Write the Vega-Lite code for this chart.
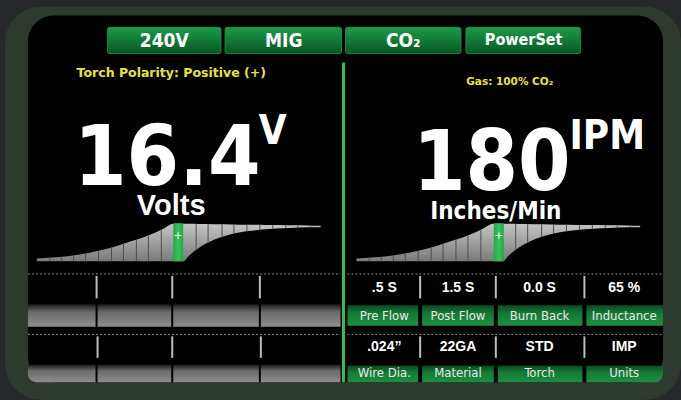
{
  "$schema": "https://vega.github.io/schema/vega-lite/v6.json",
  "width": 681,
  "height": 400,
  "padding": 0,
  "autosize": {"type": "fit", "contains": "padding"},
  "background": "#26282b",
  "config": {"view": {"stroke": null}},
  "encoding": {
    "x": {"field": "x", "type": "quantitative", "scale": {"domain": [0, 681], "nice": false, "zero": false}, "axis": null},
    "y": {"field": "y", "type": "quantitative", "scale": {"domain": [0, 400], "nice": false, "zero": false, "reverse": true}, "axis": null}
  },
  "layer": [
    {
      "data": {"values": [{"x": 5, "x2": 684, "y": 7, "y2": 410}]},
      "mark": {"type": "rect", "fill": "#2f3a2e", "cornerRadius": 36},
      "encoding": {"x2": {"field": "x2"}, "y2": {"field": "y2"}}
    },
    {
      "data": {"values": [{"x": 28, "x2": 666, "y": 16, "y2": 392}]},
      "mark": {"type": "rect", "fill": "#000000", "cornerRadius": 26},
      "encoding": {"x2": {"field": "x2"}, "y2": {"field": "y2"}}
    },
    {
      "data": {"values": [
        {"x": 108, "x2": 222, "y": 28, "y2": 55},
        {"x": 226, "x2": 343, "y": 28, "y2": 55},
        {"x": 347, "x2": 463, "y": 28, "y2": 55},
        {"x": 468, "x2": 583, "y": 28, "y2": 55}
      ]},
      "mark": {"type": "rect", "cornerRadius": 2, "stroke": "#1f9a48", "strokeWidth": 0.8,
        "fill": {"gradient": "linear", "x1": 0, "y1": 0, "x2": 0, "y2": 1, "stops": [
          {"offset": 0, "color": "#1c9a4a"}, {"offset": 0.5, "color": "#117a36"}, {"offset": 1, "color": "#0a5525"}]}},
      "encoding": {"x2": {"field": "x2"}, "y2": {"field": "y2"}}
    },
    {
      "data": {"values": [
        {"x": 165, "y": 42, "t": "240V"},
        {"x": 285, "y": 42, "t": "MIG"},
        {"x": 405, "y": 42, "t": "CO₂"}
      ]},
      "mark": {"type": "text", "font": "DejaVu Sans Condensed, sans-serif", "fontWeight": "bold", "fontSize": 19, "fill": "#ffffff", "align": "center", "baseline": "middle"},
      "encoding": {"text": {"field": "t"}}
    },
    {
      "data": {"values": [{"x": 526, "y": 41, "t": "PowerSet"}]},
      "mark": {"type": "text", "font": "DejaVu Sans Condensed, sans-serif", "fontWeight": "bold", "fontSize": 16, "fill": "#ffffff", "align": "center", "baseline": "middle"},
      "encoding": {"text": {"field": "t"}}
    },
    {
      "data": {"values": [{"x": 172, "y": 75, "t": "Torch Polarity: Positive (+)"}]},
      "mark": {"type": "text", "font": "DejaVu Sans", "fontWeight": "bold", "fontSize": 12.5, "fill": "#e8e23a", "align": "center", "baseline": "middle"},
      "encoding": {"text": {"field": "t"}}
    },
    {
      "data": {"values": [{"x": 512, "y": 84, "t": "Gas: 100% CO₂"}]},
      "mark": {"type": "text", "font": "DejaVu Sans", "fontWeight": "bold", "fontSize": 10.5, "fill": "#e8e23a", "align": "center", "baseline": "middle"},
      "encoding": {"text": {"field": "t"}}
    },
    {
      "data": {"values": [{"x": 345, "x2": 345, "y": 64, "y2": 392}]},
      "mark": {"type": "rule", "stroke": "#2cc055", "strokeWidth": 3},
      "encoding": {"y2": {"field": "y2"}}
    },
    {
      "data": {"values": [
        {"x": 168, "y": 190, "t": "16.4"},
        {"x": 494, "y": 195, "t": "180"}
      ]},
      "mark": {"type": "text", "font": "DejaVu Sans Condensed, sans-serif", "fontWeight": "bold", "fontSize": 84, "fill": "#ffffff", "align": "center", "baseline": "alphabetic"},
      "encoding": {"text": {"field": "t"}}
    },
    {
      "data": {"values": [
        {"x": 260, "y": 148, "t": "V"},
        {"x": 572, "y": 153, "t": "IPM"}
      ]},
      "mark": {"type": "text", "font": "DejaVu Sans Condensed, sans-serif", "fontWeight": "bold", "fontSize": 40, "fill": "#ffffff", "align": "left", "baseline": "alphabetic"},
      "encoding": {"text": {"field": "t"}}
    },
    {
      "data": {"values": [{"x": 172, "y": 221, "t": "Volts"}]},
      "mark": {"type": "text", "font": "Liberation Sans, Arial, sans-serif", "fontWeight": "bold", "fontSize": 29, "fill": "#ffffff", "align": "center", "baseline": "alphabetic"},
      "encoding": {"text": {"field": "t"}}
    },
    {
      "data": {"values": [{"x": 498, "y": 225, "t": "Inches/Min"}]},
      "mark": {"type": "text", "font": "DejaVu Sans Condensed, sans-serif", "fontWeight": "bold", "fontSize": 24, "fill": "#ffffff", "align": "center", "baseline": "alphabetic"},
      "encoding": {"text": {"field": "t"}}
    },
    {
      "data": {"values": [
        {"s": "L", "x": 37, "y": 265, "y2": 268}, {"s": "L", "x": 60, "y": 263.5, "y2": 268}, {"s": "L", "x": 80, "y": 261, "y2": 268},
        {"s": "L", "x": 100, "y": 257, "y2": 268}, {"s": "L", "x": 115, "y": 253, "y2": 268}, {"s": "L", "x": 130, "y": 248, "y2": 268},
        {"s": "L", "x": 145, "y": 243, "y2": 268}, {"s": "L", "x": 155, "y": 239, "y2": 268}, {"s": "L", "x": 165, "y": 234, "y2": 268},
        {"s": "L", "x": 174, "y": 229.5, "y2": 268}, {"s": "L", "x": 184, "y": 229.5, "y2": 268}, {"s": "L", "x": 190, "y": 229.6, "y2": 262},
        {"s": "L", "x": 200, "y": 229.8, "y2": 254}, {"s": "L", "x": 215, "y": 230, "y2": 246}, {"s": "L", "x": 233, "y": 230.2, "y2": 240},
        {"s": "L", "x": 250, "y": 230.5, "y2": 237}, {"s": "L", "x": 267, "y": 230.8, "y2": 235}, {"s": "L", "x": 290, "y": 231, "y2": 233.8},
        {"s": "L", "x": 310, "y": 231.2, "y2": 233.2}, {"s": "L", "x": 322, "y": 231.5, "y2": 233},
        {"s": "R", "x": 358, "y": 265, "y2": 268}, {"s": "R", "x": 381, "y": 263.5, "y2": 268}, {"s": "R", "x": 401, "y": 261, "y2": 268},
        {"s": "R", "x": 421, "y": 257, "y2": 268}, {"s": "R", "x": 436, "y": 253, "y2": 268}, {"s": "R", "x": 451, "y": 248, "y2": 268},
        {"s": "R", "x": 466, "y": 243, "y2": 268}, {"s": "R", "x": 476, "y": 239, "y2": 268}, {"s": "R", "x": 486, "y": 234, "y2": 268},
        {"s": "R", "x": 495, "y": 229.5, "y2": 268}, {"s": "R", "x": 505, "y": 229.5, "y2": 268}, {"s": "R", "x": 511, "y": 229.6, "y2": 262},
        {"s": "R", "x": 521, "y": 229.8, "y2": 254}, {"s": "R", "x": 536, "y": 230, "y2": 246}, {"s": "R", "x": 554, "y": 230.2, "y2": 240},
        {"s": "R", "x": 571, "y": 230.5, "y2": 237}, {"s": "R", "x": 588, "y": 230.8, "y2": 235}, {"s": "R", "x": 611, "y": 231, "y2": 233.8},
        {"s": "R", "x": 631, "y": 231.2, "y2": 233.2}, {"s": "R", "x": 643, "y": 231.5, "y2": 233}
      ]},
      "mark": {"type": "area", "interpolate": "monotone",
        "fill": {"gradient": "linear", "x1": 0, "y1": 0, "x2": 0, "y2": 1, "stops": [
          {"offset": 0, "color": "#c4c4c4"}, {"offset": 1, "color": "#7a7a7a"}]}},
      "encoding": {"y2": {"field": "y2"}, "detail": {"field": "s"}}
    },
    {
      "data": {"values": [
        {"x": 50, "y": 264.3, "y2": 268}, {"x": 62, "y": 263.2, "y2": 268}, {"x": 74, "y": 262, "y2": 268}, {"x": 86, "y": 260, "y2": 268},
        {"x": 99, "y": 257.3, "y2": 268}, {"x": 112, "y": 254, "y2": 268}, {"x": 124, "y": 250.2, "y2": 268}, {"x": 137, "y": 245.7, "y2": 268},
        {"x": 149, "y": 241.5, "y2": 268}, {"x": 162, "y": 235.5, "y2": 268},
        {"x": 197, "y": 229.7, "y2": 256.3}, {"x": 209, "y": 229.8, "y2": 249.5}, {"x": 223, "y": 230, "y2": 243.3}, {"x": 235, "y": 230.2, "y2": 239.6},
        {"x": 248, "y": 230.4, "y2": 237.3}, {"x": 261, "y": 230.7, "y2": 235.7}, {"x": 274, "y": 230.8, "y2": 234.6}, {"x": 287, "y": 231, "y2": 234},
        {"x": 299, "y": 231.1, "y2": 233.5}, {"x": 312, "y": 231.2, "y2": 233.2},
        {"x": 371, "y": 264.3, "y2": 268}, {"x": 383, "y": 263.2, "y2": 268}, {"x": 395, "y": 262, "y2": 268}, {"x": 407, "y": 260, "y2": 268},
        {"x": 420, "y": 257.3, "y2": 268}, {"x": 433, "y": 254, "y2": 268}, {"x": 445, "y": 250.2, "y2": 268}, {"x": 458, "y": 245.7, "y2": 268},
        {"x": 470, "y": 241.5, "y2": 268}, {"x": 483, "y": 235.5, "y2": 268},
        {"x": 518, "y": 229.7, "y2": 256.3}, {"x": 530, "y": 229.8, "y2": 249.5}, {"x": 544, "y": 230, "y2": 243.3}, {"x": 556, "y": 230.2, "y2": 239.6},
        {"x": 569, "y": 230.4, "y2": 237.3}, {"x": 582, "y": 230.7, "y2": 235.7}, {"x": 595, "y": 230.8, "y2": 234.6}, {"x": 608, "y": 231, "y2": 234},
        {"x": 620, "y": 231.1, "y2": 233.5}, {"x": 633, "y": 231.2, "y2": 233.2}
      ]},
      "mark": {"type": "rule", "stroke": "#4e4e4e", "strokeWidth": 1},
      "encoding": {"y2": {"field": "y2"}}
    },
    {
      "data": {"values": [
        {"x": 174, "x2": 184, "y": 229, "y2": 268},
        {"x": 496, "x2": 506, "y": 229, "y2": 268}
      ]},
      "mark": {"type": "rect", "fill": {"gradient": "linear", "x1": 0, "y1": 0, "x2": 1, "y2": 0, "stops": [
          {"offset": 0, "color": "#1ea846"}, {"offset": 0.5, "color": "#33c45c"}, {"offset": 1, "color": "#1ea846"}]}},
      "encoding": {"x2": {"field": "x2"}, "y2": {"field": "y2"}}
    },
    {
      "data": {"values": [{"x": 179, "y": 242, "t": "+"}, {"x": 501, "y": 242, "t": "+"}]},
      "mark": {"type": "text", "font": "DejaVu Sans", "fontSize": 11, "fill": "#f0fff0", "align": "center", "baseline": "middle"},
      "encoding": {"text": {"field": "t"}}
    },
    {
      "data": {"values": [
        {"x": 28, "x2": 342, "y": 281}, {"x": 349, "x2": 666, "y": 281},
        {"x": 28, "x2": 342, "y": 343}, {"x": 349, "x2": 666, "y": 343}
      ]},
      "mark": {"type": "rule", "stroke": "#8a8a8a", "strokeWidth": 1, "strokeDash": [2, 2]},
      "encoding": {"x2": {"field": "x2"}}
    },
    {
      "data": {"values": [
        {"x": 97, "y": 283, "y2": 306}, {"x": 173, "y": 283, "y2": 306}, {"x": 261, "y": 283, "y2": 306},
        {"x": 98, "y": 345, "y2": 367}, {"x": 173, "y": 345, "y2": 367}, {"x": 262, "y": 345, "y2": 367},
        {"x": 422, "y": 283, "y2": 306}, {"x": 498, "y": 283, "y2": 306}, {"x": 587, "y": 283, "y2": 306},
        {"x": 422, "y": 345, "y2": 367}, {"x": 498, "y": 345, "y2": 367}, {"x": 587, "y": 345, "y2": 367}
      ]},
      "mark": {"type": "rule", "stroke": "#bdbdbd", "strokeWidth": 2},
      "encoding": {"y2": {"field": "y2"}}
    },
    {
      "data": {"values": [
        {"x": 28, "x2": 96, "y": 312, "y2": 335}, {"x": 98, "x2": 172, "y": 312, "y2": 335},
        {"x": 174, "x2": 260, "y": 312, "y2": 335}, {"x": 262, "x2": 342, "y": 312, "y2": 335},
        {"x": 98, "x2": 172, "y": 374, "y2": 392},
        {"x": 174, "x2": 260, "y": 374, "y2": 392}, {"x": 262, "x2": 342, "y": 374, "y2": 392}
      ]},
      "mark": {"type": "rect", "fill": {"gradient": "linear", "x1": 0, "y1": 0, "x2": 0, "y2": 1, "stops": [
          {"offset": 0, "color": "#1a1a1a"}, {"offset": 0.35, "color": "#6a6a6a"}, {"offset": 1, "color": "#8e8e8e"}]}},
      "encoding": {"x2": {"field": "x2"}, "y2": {"field": "y2"}}
    },
    {
      "data": {"values": [{"x": 28, "x2": 96, "y": 374, "y2": 392}]},
      "mark": {"type": "rect", "cornerRadiusBottomLeft": 24, "fill": {"gradient": "linear", "x1": 0, "y1": 0, "x2": 0, "y2": 1, "stops": [
          {"offset": 0, "color": "#1a1a1a"}, {"offset": 0.35, "color": "#6a6a6a"}, {"offset": 1, "color": "#8e8e8e"}]}},
      "encoding": {"x2": {"field": "x2"}, "y2": {"field": "y2"}}
    },
    {
      "data": {"values": [
        {"x": 349, "x2": 420, "y": 313, "y2": 334}, {"x": 424, "x2": 496, "y": 313, "y2": 334},
        {"x": 500, "x2": 585, "y": 313, "y2": 334}, {"x": 589, "x2": 666, "y": 313, "y2": 334},
        {"x": 349, "x2": 420, "y": 375, "y2": 392}, {"x": 424, "x2": 496, "y": 375, "y2": 392},
        {"x": 500, "x2": 585, "y": 375, "y2": 392}
      ]},
      "mark": {"type": "rect", "fill": {"gradient": "linear", "x1": 0, "y1": 0, "x2": 0, "y2": 1, "stops": [
          {"offset": 0, "color": "#0a4a20"}, {"offset": 0.4, "color": "#147a34"}, {"offset": 1, "color": "#1d8f40"}]}},
      "encoding": {"x2": {"field": "x2"}, "y2": {"field": "y2"}}
    },
    {
      "data": {"values": [{"x": 589, "x2": 666, "y": 375, "y2": 392}]},
      "mark": {"type": "rect", "cornerRadiusBottomRight": 24, "fill": {"gradient": "linear", "x1": 0, "y1": 0, "x2": 0, "y2": 1, "stops": [
          {"offset": 0, "color": "#0a4a20"}, {"offset": 0.4, "color": "#147a34"}, {"offset": 1, "color": "#1d8f40"}]}},
      "encoding": {"x2": {"field": "x2"}, "y2": {"field": "y2"}}
    },
    {
      "data": {"values": [
        {"x": 386, "y": 295, "t": ".5 S"}, {"x": 460, "y": 295, "t": "1.5 S"}, {"x": 542, "y": 295, "t": "0.0 S"}, {"x": 627, "y": 295, "t": "65 %"},
        {"x": 386, "y": 356, "t": ".024”"}, {"x": 460, "y": 356, "t": "22GA"}, {"x": 542, "y": 356, "t": "STD"}, {"x": 627, "y": 356, "t": "IMP"}
      ]},
      "mark": {"type": "text", "font": "Liberation Sans, Arial, sans-serif", "fontWeight": "bold", "fontSize": 14, "fill": "#ffffff", "align": "center", "baseline": "middle"},
      "encoding": {"text": {"field": "t"}}
    },
    {
      "data": {"values": [
        {"x": 386, "y": 324, "t": "Pre Flow"}, {"x": 460, "y": 324, "t": "Post Flow"}, {"x": 542, "y": 324, "t": "Burn Back"}, {"x": 627, "y": 324, "t": "Inductance"},
        {"x": 386, "y": 383, "t": "Wire Dia."}, {"x": 460, "y": 383, "t": "Material"}, {"x": 542, "y": 383, "t": "Torch"}, {"x": 627, "y": 383, "t": "Units"}
      ]},
      "mark": {"type": "text", "font": "DejaVu Sans Condensed, sans-serif", "fontSize": 13, "fill": "#e8e8e8", "align": "center", "baseline": "middle"},
      "encoding": {"text": {"field": "t"}}
    }
  ]
}
